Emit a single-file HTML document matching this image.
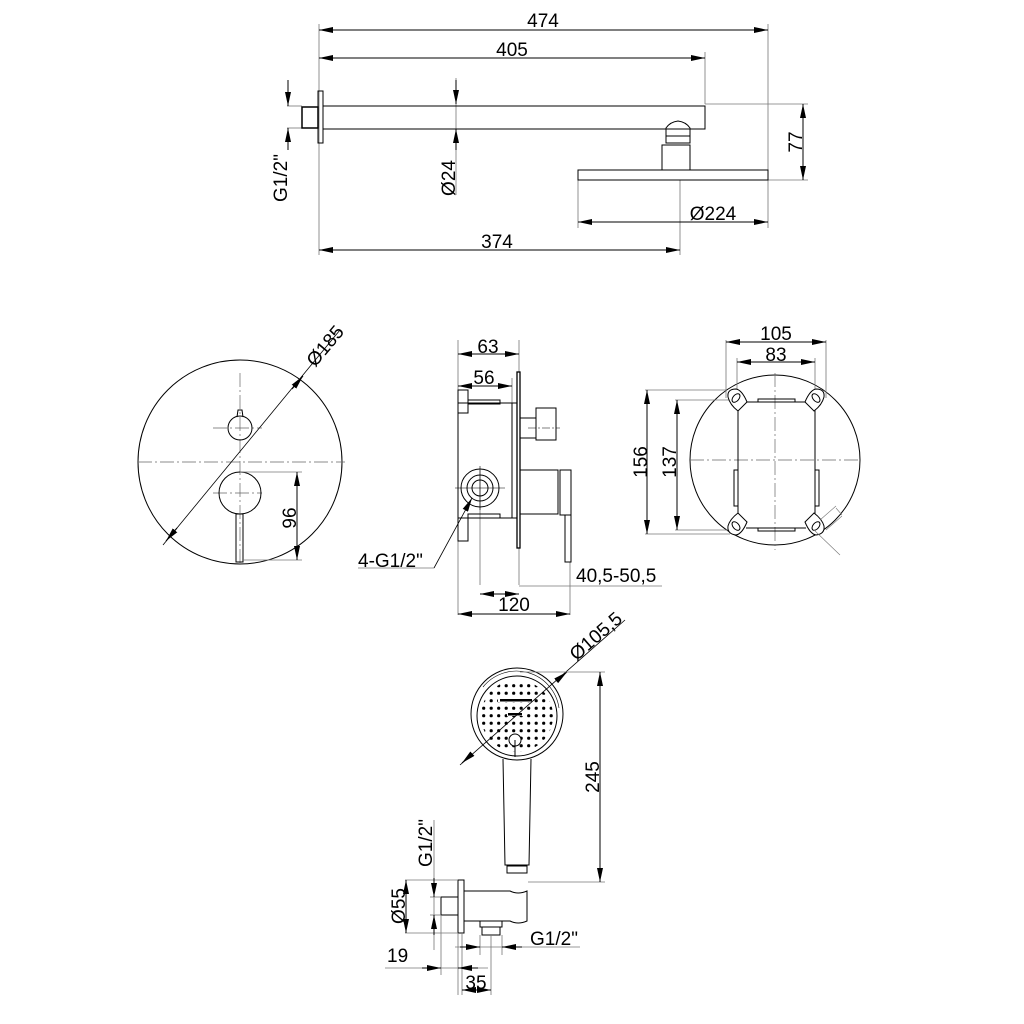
<!DOCTYPE html>
<html><head><meta charset="utf-8"><style>
html,body{margin:0;padding:0;background:#fff}
svg{display:block}
text{font-family:"Liberation Sans",sans-serif;font-size:19px;fill:#000}
</style></head><body>
<svg width="1024" height="1024" viewBox="0 0 1024 1024" xmlns="http://www.w3.org/2000/svg">
<defs>
<marker id="a" viewBox="0 0 14 6" refX="14" refY="3" markerWidth="14" markerHeight="6" orient="auto-start-reverse" markerUnits="userSpaceOnUse"><path d="M0,0L14,3L0,6z" fill="#000"/></marker>
<pattern id="dots" x="480" y="682" width="7.5" height="7.5" patternUnits="userSpaceOnUse"><circle cx="3.7" cy="3.7" r="1.6" fill="#000"/></pattern>
<clipPath id="hc"><circle cx="517" cy="716" r="36"/></clipPath>
</defs>
<g fill="none" stroke="#000" stroke-width="1">
<!-- TOP -->
<g stroke="#777" stroke-width="0.8">
<line x1="319" y1="24" x2="319" y2="255"/>
<line x1="768" y1="24" x2="768" y2="228"/>
<line x1="705" y1="52" x2="705" y2="104"/>
<line x1="705" y1="104" x2="808" y2="104"/>
<line x1="768" y1="180" x2="808" y2="180"/>
<line x1="578" y1="180" x2="578" y2="228"/>
<line x1="680" y1="180" x2="680" y2="255"/>
<line x1="287" y1="106" x2="302" y2="106"/>
<line x1="287" y1="128" x2="302" y2="128"/>
<line x1="456" y1="78" x2="456" y2="195"/>
</g>
<line x1="319" y1="30" x2="768" y2="30" marker-start="url(#a)" marker-end="url(#a)"/>
<line x1="319" y1="58" x2="705" y2="58" marker-start="url(#a)" marker-end="url(#a)"/>
<line x1="319" y1="250" x2="680" y2="250" marker-start="url(#a)" marker-end="url(#a)"/>
<line x1="578" y1="222" x2="768" y2="222" marker-start="url(#a)" marker-end="url(#a)"/>
<line x1="803" y1="104" x2="803" y2="180" marker-start="url(#a)" marker-end="url(#a)"/>
<line x1="288" y1="80" x2="288" y2="106" marker-end="url(#a)"/>
<line x1="288" y1="150" x2="288" y2="128" marker-end="url(#a)"/>
<line x1="456" y1="80" x2="456" y2="104" marker-end="url(#a)"/>
<line x1="456" y1="150" x2="456" y2="129" marker-end="url(#a)"/>
<rect x="302" y="107" width="16" height="21" stroke-width="1.5"/>
<rect x="318" y="91" width="5" height="52"/>
<rect x="323" y="106" width="382" height="23"/>
<path d="M666,128 Q670,122 678,121 Q686,122 690,128 L690,143 L666,143 Z"/>
<line x1="666" y1="136" x2="690" y2="136"/>
<rect x="662" y="145" width="28" height="25"/>
<rect x="578" y="170" width="190" height="10"/>
<!-- MIDDLE LEFT -->
<circle cx="240" cy="462" r="102"/>
<g stroke="#666" stroke-width="0.7" stroke-dasharray="14,3,2,3">
<line x1="138" y1="462" x2="345" y2="462"/>
<line x1="240" y1="373" x2="240" y2="565"/>
<line x1="213" y1="428" x2="262" y2="428"/>
<line x1="213" y1="493" x2="262" y2="493"/>
</g>
<circle cx="240" cy="428" r="12"/>
<path d="M237,417 L238,410 L242,410 L243,417"/>
<circle cx="240" cy="493" r="21"/>
<rect x="236" y="514" width="7" height="48"/>
<line x1="163" y1="545" x2="340" y2="330" stroke-width="0.8"/>
<line x1="177" y1="528" x2="166" y2="541" marker-end="url(#a)"/>
<line x1="292" y1="389" x2="303" y2="376" marker-end="url(#a)"/>
<line x1="240" y1="472" x2="302" y2="472" stroke="#777" stroke-width="0.8"/>
<line x1="243" y1="560" x2="302" y2="560" stroke="#777" stroke-width="0.8"/>
<line x1="297" y1="472" x2="297" y2="560" marker-start="url(#a)" marker-end="url(#a)"/>
<!-- MIDDLE SIDE -->
<g stroke="#777" stroke-width="0.8">
<line x1="458" y1="340" x2="458" y2="615"/>
<line x1="519" y1="340" x2="519" y2="372"/>
<line x1="512" y1="378" x2="512" y2="403"/>
<line x1="480" y1="470" x2="480" y2="585"/>
<line x1="519" y1="548" x2="519" y2="585"/>
<line x1="570" y1="562" x2="570" y2="615"/>
<line x1="519" y1="586" x2="662" y2="586"/>
<line x1="434" y1="568" x2="358" y2="568"/>
</g>
<line x1="458" y1="354" x2="519" y2="354" marker-start="url(#a)" marker-end="url(#a)"/>
<line x1="458" y1="386" x2="512" y2="386" marker-start="url(#a)" marker-end="url(#a)"/>
<line x1="480" y1="594" x2="519" y2="594" marker-start="url(#a)" marker-end="url(#a)"/>
<line x1="458" y1="614" x2="570" y2="614" marker-start="url(#a)" marker-end="url(#a)"/>
<rect x="517" y="372" width="3" height="176" stroke-width="1.3"/>
<rect x="458" y="390" width="10" height="23"/>
<rect x="458" y="518" width="10" height="23"/>
<rect x="468" y="400" width="32" height="4"/>
<rect x="468" y="514" width="32" height="4"/>
<rect x="458" y="403" width="54" height="115"/>
<rect x="512" y="403" width="5" height="115"/>
<rect x="520" y="418" width="16" height="20"/>
<rect x="536" y="408" width="20" height="32"/>
<line x1="528" y1="428" x2="560" y2="428" stroke-width="0.6" stroke-dasharray="8,2,2,2"/>
<rect x="520" y="470" width="38" height="44"/>
<rect x="560" y="470" width="11" height="45"/>
<rect x="565" y="515" width="6" height="47"/>
<circle cx="480" cy="488" r="19"/>
<circle cx="480" cy="488" r="13"/>
<circle cx="480" cy="488" r="8"/>
<line x1="455" y1="488" x2="505" y2="488" stroke-width="0.6"/>
<line x1="480" y1="466" x2="480" y2="510" stroke-width="0.6"/>
<line x1="434" y1="568" x2="472" y2="498" stroke-width="0.8" marker-end="url(#a)"/>
<!-- RIGHT -->
<circle cx="775" cy="460" r="85"/>
<g stroke="#666" stroke-width="0.7" stroke-dasharray="14,3,2,3">
<line x1="690" y1="460" x2="860" y2="460"/>
<line x1="775" y1="373" x2="775" y2="550"/>
</g>
<g stroke="#777" stroke-width="0.8">
<line x1="726" y1="340" x2="726" y2="398"/>
<line x1="826" y1="340" x2="826" y2="398"/>
<line x1="737" y1="358" x2="737" y2="398"/>
<line x1="815" y1="358" x2="815" y2="398"/>
<line x1="645" y1="390" x2="726" y2="390"/>
<line x1="675" y1="400" x2="733" y2="400"/>
<line x1="645" y1="534" x2="730" y2="534"/>
<line x1="675" y1="530" x2="733" y2="530"/>
</g>
<line x1="726" y1="342" x2="826" y2="342" marker-start="url(#a)" marker-end="url(#a)"/>
<line x1="737" y1="362" x2="815" y2="362" marker-start="url(#a)" marker-end="url(#a)"/>
<line x1="647" y1="390" x2="647" y2="534" marker-start="url(#a)" marker-end="url(#a)"/>
<line x1="677" y1="400" x2="677" y2="530" marker-start="url(#a)" marker-end="url(#a)"/>
<path d="M746,402 L806,402 M746,528 L806,528 M738,410 L738,520 M815,410 L815,520"/>
<rect x="758" y="399" width="37" height="3"/>
<rect x="758" y="528" width="37" height="3"/>
<rect x="734" y="470" width="4" height="36"/>
<rect x="815" y="470" width="4" height="36"/>
<g fill="#fff">
<path d="M728,397 Q727,389 736,389 Q742,390 747,402 L738,411 Q730,405 728,397 Z"/>
<path d="M824,397 Q825,389 816,389 Q810,390 805,402 L814,411 Q822,405 824,397 Z"/>
<path d="M728,526 Q727,534 736,535 Q742,534 747,522 L738,513 Q730,519 728,526 Z"/>
<path d="M824,526 Q825,534 816,535 Q810,534 805,522 L814,513 Q822,519 824,526 Z"/>
</g>
<ellipse cx="736" cy="398" rx="3" ry="5" transform="rotate(40 736 398)"/>
<ellipse cx="816" cy="398" rx="3" ry="5" transform="rotate(-40 816 398)"/>
<ellipse cx="736" cy="526" rx="3" ry="5" transform="rotate(-40 736 526)"/>
<ellipse cx="816" cy="526" rx="3" ry="5" transform="rotate(40 816 526)"/>
<g stroke="#777" stroke-width="0.6"><line x1="820" y1="520" x2="836" y2="506"/><line x1="826" y1="530" x2="842" y2="516"/><line x1="836" y1="508" x2="842" y2="515"/><line x1="814" y1="530" x2="840" y2="555"/></g>
<!-- BOTTOM -->
<circle cx="517" cy="714" r="46"/>
<path d="M483,687 A43,43 0 0 1 559,708" stroke-width="0.6"/>
<circle cx="517" cy="716" r="40"/>
<rect x="479" y="678" width="76" height="76" fill="url(#dots)" stroke="none" clip-path="url(#hc)"/>
<rect x="498" y="698" width="36" height="4" fill="#fff" stroke="none"/>
<rect x="500" y="699" width="32" height="2.5" fill="#000" stroke="none"/>
<rect x="507" y="712" width="17" height="4" fill="#fff" stroke="none"/>
<rect x="508" y="713" width="14" height="2.5" fill="#000" stroke="none"/>
<line x1="460" y1="765" x2="625" y2="620" stroke-width="0.8"/>
<line x1="472" y1="754" x2="462" y2="763" marker-end="url(#a)"/>
<line x1="556" y1="681" x2="567" y2="672" marker-end="url(#a)"/>
<circle cx="515" cy="740" r="6" fill="#fff"/>
<line x1="515" y1="740" x2="515" y2="757"/>
<g stroke="#777" stroke-width="0.8">
<line x1="520" y1="672" x2="605" y2="672"/>
<line x1="528" y1="882" x2="605" y2="882"/>
</g>
<line x1="600" y1="672" x2="600" y2="882" marker-start="url(#a)" marker-end="url(#a)"/>
<path d="M503,759 L505,865 L529,865 L531,759"/>
<rect x="507" y="866" width="20" height="7"/>
<rect x="441" y="897" width="17" height="18"/>
<rect x="458" y="880" width="6" height="53"/>
<path d="M464,891 L510,891 Q518,895 527,891 L527,921 Q518,925 510,921 L464,921"/>
<rect x="480" y="921" width="22" height="6"/>
<rect x="482" y="927" width="18" height="8"/>
<g stroke="#777" stroke-width="0.8">
<line x1="405" y1="880" x2="458" y2="880"/>
<line x1="405" y1="933" x2="458" y2="933"/>
<line x1="430" y1="897" x2="441" y2="897"/>
<line x1="430" y1="915" x2="441" y2="915"/>
<line x1="434" y1="820" x2="434" y2="950"/>
<line x1="441" y1="915" x2="441" y2="975"/>
<line x1="458" y1="933" x2="458" y2="995"/>
<line x1="462" y1="933" x2="462" y2="995"/>
<line x1="491" y1="935" x2="491" y2="995"/>
<line x1="480" y1="935" x2="480" y2="955"/>
<line x1="502" y1="935" x2="502" y2="955"/>
<line x1="455" y1="947" x2="580" y2="947"/>
<line x1="385" y1="968" x2="488" y2="968"/>
</g>
<line x1="406" y1="880" x2="406" y2="933" marker-start="url(#a)" marker-end="url(#a)"/>
<line x1="434" y1="878" x2="434" y2="897" marker-end="url(#a)"/>
<line x1="434" y1="935" x2="434" y2="915" marker-end="url(#a)"/>
<line x1="460" y1="947" x2="480" y2="947" marker-end="url(#a)"/>
<line x1="522" y1="947" x2="502" y2="947" marker-end="url(#a)"/>
<line x1="422" y1="968" x2="441" y2="968" marker-end="url(#a)"/>
<line x1="478" y1="968" x2="458" y2="968" marker-end="url(#a)"/>
<line x1="462" y1="990" x2="491" y2="990" marker-start="url(#a)" marker-end="url(#a)"/>
</g>
<!-- TEXT -->
<text x="543" y="27" text-anchor="middle">474</text>
<text x="512" y="56" text-anchor="middle">405</text>
<text x="497" y="248" text-anchor="middle">374</text>
<text x="713" y="220" text-anchor="middle">Ø224</text>
<text transform="translate(802,142) rotate(-90)" text-anchor="middle">77</text>
<text transform="translate(287,178) rotate(-90)" text-anchor="middle">G1/2"</text>
<text transform="translate(455,178) rotate(-90)" text-anchor="middle">Ø24</text>
<text transform="translate(330,350) rotate(-50)" text-anchor="middle">Ø185</text>
<text transform="translate(296,518) rotate(-90)" text-anchor="middle">96</text>
<text x="488" y="353" text-anchor="middle">63</text>
<text x="484" y="384" text-anchor="middle">56</text>
<text x="358" y="567">4-G1/2"</text>
<text x="576" y="582">40,5-50,5</text>
<text x="514" y="611" text-anchor="middle">120</text>
<text x="776" y="340" text-anchor="middle">105</text>
<text x="776" y="361" text-anchor="middle">83</text>
<text transform="translate(647,462) rotate(-90)" text-anchor="middle">156</text>
<text transform="translate(676,462) rotate(-90)" text-anchor="middle">137</text>
<text transform="translate(600,641) rotate(-41)" text-anchor="middle">Ø105,5</text>
<text transform="translate(599,777) rotate(-90)" text-anchor="middle">245</text>
<text transform="translate(432,843) rotate(-90)" text-anchor="middle">G1/2"</text>
<text transform="translate(405,906) rotate(-90)" text-anchor="middle">Ø55</text>
<text x="530" y="945">G1/2"</text>
<text x="387" y="962">19</text>
<text x="476" y="989" text-anchor="middle">35</text>
</svg>
</body></html>
